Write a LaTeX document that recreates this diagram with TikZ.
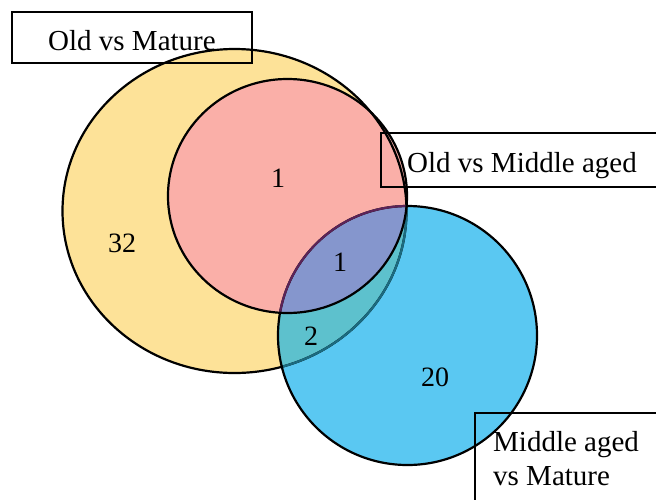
\documentclass[tikz,border=0pt]{standalone}
\usepackage{fontspec}
\setmainfont{Liberation Serif}
\definecolor{cyell}{HTML}{FDE298}
\definecolor{cred}{HTML}{FAAFA8}
\definecolor{cblue}{HTML}{5AC8F2}
\definecolor{cpurp}{HTML}{8596CD}
\definecolor{cteal}{HTML}{5DC1CD}
\definecolor{lteal}{HTML}{1B6B80}
\definecolor{lpurp}{HTML}{5C2358}
\tikzset{
  outl/.style={line width=2.2pt},
  lbox/.style={line width=2.1pt, draw=black},
  lbl/.style={font=\fontsize{29}{34}\selectfont, inner sep=0pt},
  num/.style={font=\fontsize{28}{32}\selectfont, inner sep=0pt},
}
\begin{document}
\begin{tikzpicture}[x=1pt,y=-1pt]
\useasboundingbox (0,0) rectangle (656,499);
\clip (0,0) rectangle (656,499);
\def\Ypath{(234.5,211) ellipse [x radius=172, y radius=162]}
\def\Rpath{(287.5,196) ellipse [x radius=119.5, y radius=117]}
\def\Bpath{(407.5,335.5) circle [radius=129.5]}
% fills
\fill[cyell] \Ypath;
\fill[cred] \Rpath;
\fill[cblue] \Bpath;
\begin{scope}
  \clip \Bpath;
  \fill[cteal] \Ypath;
  \fill[cpurp] \Rpath;
\end{scope}
% outlines
\draw[outl] \Ypath;
\begin{scope}
  \clip \Bpath;
  \draw[outl, lteal] \Ypath;
\end{scope}
\draw[outl] \Bpath;
\begin{scope}
  \clip \Rpath;
  \draw[outl, lpurp] \Bpath;
\end{scope}
\draw[outl] \Rpath;
% boxes
\draw[lbox] (12,12) rectangle (252,63);
\draw[lbox] (381,133) rectangle (670,187);
\draw[lbox] (475,413) rectangle (670,510);
% labels
\node[lbl, anchor=base west] (l1) at (48,50) {Old vs Mature};
\node[lbl, anchor=base west] (l2) at (407,172) {Old vs Middle aged};
\node[lbl, anchor=base west] (l3a) at (493,451) {Middle aged};
\node[lbl, anchor=base west] (l3b) at (493,485) {vs Mature};
% numbers
\node[num] (n32) at (122,243) {32};
\node[num] (n1a) at (278,178) {1};
\node[num] (n1b) at (340,262) {1};
\node[num] (n2) at (311,336) {2};
\node[num] (n20) at (435,377) {20};
\end{tikzpicture}
\end{document}
